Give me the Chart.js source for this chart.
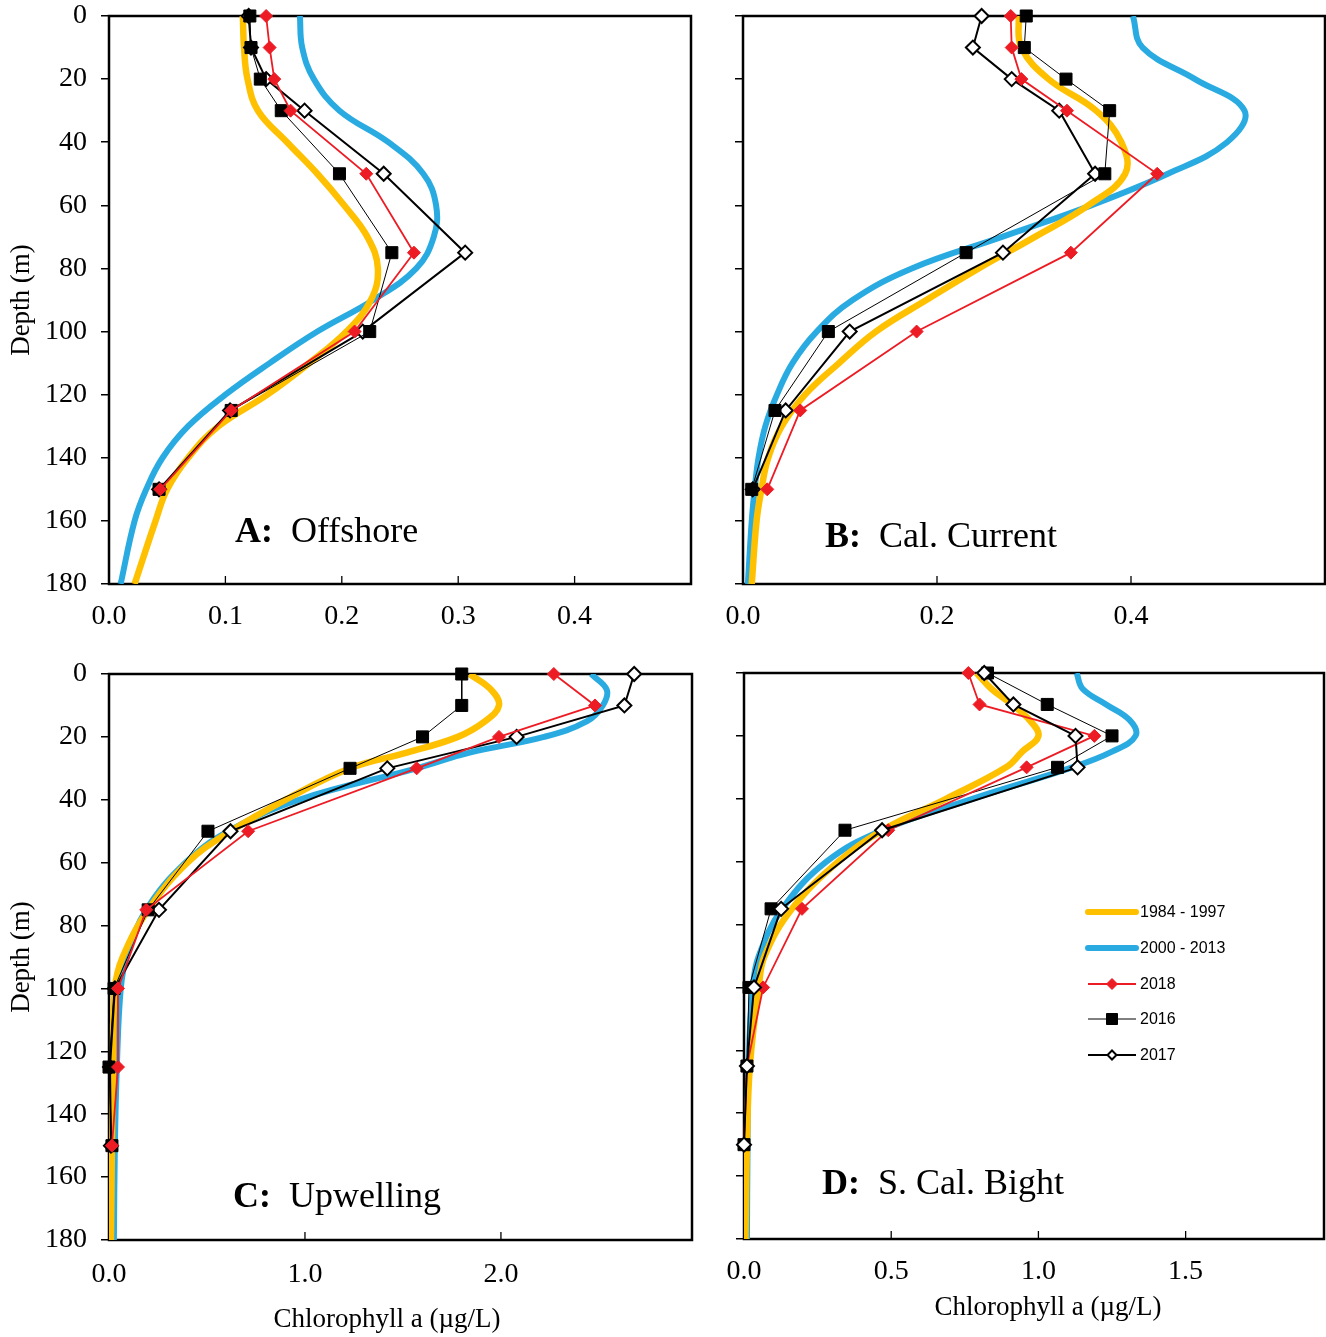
<!DOCTYPE html>
<html>
<head>
<meta charset="utf-8">
<script src="https://cdn.jsdelivr.net/npm/chart.js@4.4.1/dist/chart.umd.min.js"></script>
<style>
  html, body { margin: 0; padding: 0; background: #fff; }
  body { position: relative; width: 1326px; height: 1337px; overflow: hidden;
         font-family: 'Liberation Serif', 'Times New Roman', serif; color: #000; }
  canvas { position: absolute; }
  .lab { position: absolute; font-size: 36px; line-height: 36px; white-space: pre; }
  .xt { position: absolute; font-size: 27px; line-height: 27px; white-space: nowrap; transform: translateX(-50%); }
</style>
</head>
<body>
<canvas id="cA" width="700" height="650" style="left:0;top:0"></canvas>
<canvas id="cB" width="626" height="650" style="left:700px;top:0"></canvas>
<canvas id="cC" width="700" height="687" style="left:0;top:650px"></canvas>
<canvas id="cD" width="626" height="687" style="left:700px;top:650px"></canvas>

<div class="lab" style="left:235px;top:512px"><b>A:</b>  Offshore</div>
<div class="lab" style="left:825px;top:517px"><b>B:</b>  Cal. Current</div>
<div class="lab" style="left:233px;top:1177px"><b>C:</b>  Upwelling</div>
<div class="lab" style="left:822px;top:1164px"><b>D:</b>  S. Cal. Bight</div>
<div class="xt" style="left:387px;top:1305px">Chlorophyll a (µg/L)</div>
<div class="xt" style="left:1048px;top:1293px">Chlorophyll a (µg/L)</div>

<script>
// depths (m) of the sampled profiles and of the smoothed climatologies
const sampleDepths = [0, 10, 20, 30, 50, 75, 100, 125, 150];
const smoothDepthsAB = [0, 10, 20, 30, 40, 50, 60, 70, 80, 90, 100, 110, 120, 130, 140, 150, 160, 180];
const smoothDepthsCD = [0, 5, 10, 15, 20, 25, 30, 40, 50, 60, 75, 90, 100, 125, 150, 180];

// A: Offshore
const offshore8497 = [0.115, 0.116, 0.119, 0.128, 0.153, 0.179, 0.202, 0.222, 0.231, 0.225, 0.204, 0.172, 0.136, 0.094, 0.068, 0.050, 0.040, 0.022];
const offshore0013 = [0.164, 0.166, 0.176, 0.198, 0.240, 0.270, 0.281, 0.279, 0.264, 0.227, 0.179, 0.138, 0.100, 0.068, 0.046, 0.032, 0.022, 0.010];
const offshore2018 = [0.135, 0.138, 0.142, 0.156, 0.221, 0.262, 0.211, 0.105, 0.044];
const offshore2016 = [0.121, 0.122, 0.130, 0.148, 0.198, 0.243, 0.224, 0.105, 0.043];
const offshore2017 = [0.120, 0.122, 0.135, 0.168, 0.236, 0.306, 0.218, 0.104, 0.043];

// B: Cal. Current
const calcur8497 = [0.284, 0.287, 0.315, 0.364, 0.390, 0.394, 0.356, 0.301, 0.243, 0.189, 0.137, 0.099, 0.064, 0.040, 0.026, 0.019, 0.014, 0.009];
const calcur0013 = [0.402, 0.412, 0.466, 0.517, 0.499, 0.438, 0.359, 0.267, 0.174, 0.113, 0.076, 0.051, 0.035, 0.023, 0.016, 0.012, 0.009, 0.005];
const calcur2018 = [0.276, 0.277, 0.287, 0.334, 0.427, 0.338, 0.179, 0.059, 0.025];
const calcur2016 = [0.292, 0.290, 0.333, 0.378, 0.373, 0.230, 0.088, 0.033, 0.009];
const calcur2017 = [0.246, 0.237, 0.277, 0.326, 0.363, 0.268, 0.110, 0.044, 0.010];

// C: Upwelling
const upwell8497 = [1.84, 1.95, 1.99, 1.92, 1.78, 1.52, 1.23, 0.90, 0.62, 0.40, 0.20, 0.07, 0.03, 0.02, 0.015, 0.01];
const upwell0013 = [2.46, 2.54, 2.52, 2.44, 2.22, 1.84, 1.57, 0.97, 0.61, 0.39, 0.19, 0.09, 0.06, 0.04, 0.03, 0.025];
const upwell2018 = [2.27, 2.48, 1.99, 1.57, 0.71, 0.19, 0.046, 0.046, 0.015];
const upwell2016 = [1.80, 1.80, 1.60, 1.23, 0.505, 0.20, 0.026, 0.0, 0.015];
const upwell2017 = [2.68, 2.63, 2.08, 1.42, 0.62, 0.255, 0.03, 0.005, 0.01];

// D: S. Cal. Bight
const bight8497 = [0.79, 0.84, 0.91, 0.97, 1.00, 0.945, 0.89, 0.686, 0.47, 0.32, 0.163, 0.07, 0.05, 0.02, 0.01, 0.005];
const bight0013 = [1.13, 1.15, 1.23, 1.31, 1.33, 1.25, 1.115, 0.776, 0.47, 0.28, 0.13, 0.05, 0.03, 0.015, 0.012, 0.01];
const bight2018 = [0.762, 0.80, 1.19, 0.96, 0.49, 0.197, 0.065, 0.01, 0.0];
const bight2016 = [0.827, 1.03, 1.25, 1.065, 0.343, 0.092, 0.017, 0.01, 0.0];
const bight2017 = [0.816, 0.915, 1.126, 1.133, 0.469, 0.126, 0.034, 0.01, 0.0];

// tick labels
const depthTicks = [0, 20, 40, 60, 80, 100, 120, 140, 160, 180];
const xTicksA = [0, 0.1, 0.2, 0.3, 0.4];
const xTicksB = [0, 0.2, 0.4];
const xTicksC = [0, 1, 2];
const xTicksD = [0, 0.5, 1, 1.5];

const YEL = '#FFC000';
const BLU = '#29ABE2';
const RED = '#ED1C24';
const SERIF = "'Liberation Serif', 'Times New Roman', serif";

function pts(vals, depths) {
  return vals.map((v, i) => ({ x: v, y: depths[i] }));
}

// box round the plot + x ticks pointing inwards
const framePlugin = {
  id: 'frame',
  beforeDatasetsDraw(chart) {
    const { ctx, chartArea: a } = chart;
    const x = chart.scales.x;
    ctx.save();
    ctx.strokeStyle = '#000';
    ctx.lineWidth = 1.3;
    x.ticks.forEach(t => {
      const px = x.getPixelForValue(t.value);
      ctx.beginPath();
      ctx.moveTo(px, a.bottom);
      ctx.lineTo(px, a.bottom - 8);
      ctx.stroke();
    });
    ctx.lineWidth = 2.5;
    ctx.strokeRect(a.left, a.top, a.right - a.left, a.bottom - a.top);
    ctx.restore();
  }
};

// legend drawn inside panel D
const boxLegend = {
  id: 'boxLegend',
  afterDatasetsDraw(chart, args, opts) {
    if (!opts.show) return;
    const ctx = chart.ctx;
    const rows = [262, 298, 334, 369, 405];
    const x0 = 388, x1 = 436, mx = 412;
    ctx.save();
    chart.data.datasets.forEach((ds, i) => {
      const y = rows[i];
      ctx.strokeStyle = ds.borderColor;
      ctx.lineCap = ds.pointRadius ? 'butt' : 'round';
      ctx.lineWidth = ds.pointRadius ? ds.borderWidth : 6;
      ctx.beginPath();
      ctx.moveTo(x0, y);
      ctx.lineTo(x1, y);
      ctx.stroke();
      if (ds.pointRadius) {
        ctx.fillStyle = ds.pointBackgroundColor;
        ctx.lineWidth = ds.pointBorderWidth;
        ctx.beginPath();
        if (ds.pointStyle === 'rect') {
          ctx.rect(mx - 5.5, y - 5.5, 11, 11);
        } else {
          const r = ds.label === '2017' ? 4.5 : 5.5;
          ctx.moveTo(mx, y - r); ctx.lineTo(mx + r, y); ctx.lineTo(mx, y + r); ctx.lineTo(mx - r, y); ctx.closePath();
        }
        ctx.fill();
        ctx.stroke();
      }
      ctx.fillStyle = '#000';
      ctx.font = "16px 'Liberation Sans', Arial, sans-serif";
      ctx.textBaseline = 'middle';
      ctx.textAlign = 'left';
      ctx.fillText(ds.label, x1 + 4, y + 1);
    });
    ctx.restore();
  }
};

function makePanel(id, p) {
  // open diamonds sit under the squares except in panel D
  const datasets = [
    { label: '1984 - 1997', data: pts(p.clim1, p.smooth), borderColor: YEL, borderWidth: 6.5,
      pointRadius: 0, showLine: true, tension: 0.4, order: 4 },
    { label: '2000 - 2013', data: pts(p.clim2, p.smooth), borderColor: BLU, borderWidth: 6,
      pointRadius: 0, showLine: true, tension: 0.4, order: 5 },
    { label: '2018', data: pts(p.y2018, sampleDepths), borderColor: RED, borderWidth: 1.8,
      pointStyle: 'rectRot', pointRadius: 6.5, pointBackgroundColor: RED, pointBorderColor: RED,
      pointBorderWidth: 1, showLine: true, tension: 0, order: p.openTop ? 2 : 1, clip: false },
    { label: '2016', data: pts(p.y2016, sampleDepths), borderColor: '#000', borderWidth: 1,
      pointStyle: 'rect', pointRadius: 8.5, pointBackgroundColor: '#000', pointBorderColor: '#000',
      pointBorderWidth: 1, showLine: true, tension: 0, order: p.openTop ? 3 : 2, clip: false },
    { label: '2017', data: pts(p.y2017, sampleDepths), borderColor: '#000', borderWidth: 2,
      pointStyle: 'rectRot', pointRadius: 7, pointBackgroundColor: '#fff', pointBorderColor: '#000',
      pointBorderWidth: 2, showLine: true, tension: 0, order: p.openTop ? 1 : 3, clip: false }
  ];

  return new Chart(document.getElementById(id), {
    type: 'scatter',
    data: { datasets: datasets },
    plugins: [framePlugin, boxLegend],
    options: {
      responsive: false,
      devicePixelRatio: 1,
      animation: false,
      events: [],
      layout: { autoPadding: false, padding: { top: p.top, right: p.right, left: 0, bottom: 0 } },
      plugins: {
        legend: { display: false },
        tooltip: { enabled: false },
        boxLegend: { show: !!p.legend }
      },
      scales: {
        x: {
          type: 'linear',
          min: 0,
          max: p.xMax,
          afterBuildTicks: s => { s.ticks = p.xTicks.map(v => ({ value: v })); },
          afterFit: s => { s.height = p.xHeight; s.paddingLeft = 0; s.paddingRight = 0; },
          grid: { display: false, drawTicks: false },
          border: { display: false },
          ticks: {
            padding: p.xPad,
            color: '#000',
            font: { family: SERIF, size: 28 },
            maxRotation: 0,
            callback: v => Number(v).toFixed(1)
          }
        },
        y: {
          type: 'linear',
          reverse: true,
          min: 0,
          max: 180,
          afterBuildTicks: s => { s.ticks = depthTicks.map(v => ({ value: v })); },
          afterFit: s => { s.width = p.yWidth; s.paddingTop = 0; s.paddingBottom = 0; },
          grid: { drawOnChartArea: false, drawTicks: true, tickLength: 8, color: '#000', lineWidth: 1.5 },
          border: { display: false },
          title: {
            display: p.yTitle,
            text: 'Depth (m)',
            color: '#000',
            font: { family: SERIF, size: 27 },
            padding: { top: 6, bottom: 0 }
          },
          ticks: {
            display: p.yTitle,
            padding: 14,
            color: '#000',
            font: { family: SERIF, size: 28 }
          }
        }
      }
    }
  });
}

makePanel('cA', { clim1: offshore8497, clim2: offshore0013, y2018: offshore2018, y2016: offshore2016, y2017: offshore2017,
  smooth: smoothDepthsAB, xMax: 0.5, xTicks: xTicksA, top: 16, right: 9, yWidth: 109, xHeight: 66, xPad: 16, yTitle: true });
makePanel('cB', { clim1: calcur8497, clim2: calcur0013, y2018: calcur2018, y2016: calcur2016, y2017: calcur2017,
  smooth: smoothDepthsAB, xMax: 0.6, xTicks: xTicksB, top: 16, right: 1, yWidth: 43, xHeight: 66, xPad: 16, yTitle: false });
makePanel('cC', { clim1: upwell8497, clim2: upwell0013, y2018: upwell2018, y2016: upwell2016, y2017: upwell2017,
  smooth: smoothDepthsCD, xMax: 2.975, xTicks: xTicksC, top: 24, right: 8, yWidth: 109, xHeight: 97, xPad: 18, yTitle: true });
makePanel('cD', { clim1: bight8497, clim2: bight0013, y2018: bight2018, y2016: bight2016, y2017: bight2017,
  smooth: smoothDepthsCD, xMax: 1.97, xTicks: xTicksD, top: 23, right: 2, yWidth: 44, xHeight: 98, xPad: 16, yTitle: false, legend: true, openTop: true });
</script>
</body>
</html>
